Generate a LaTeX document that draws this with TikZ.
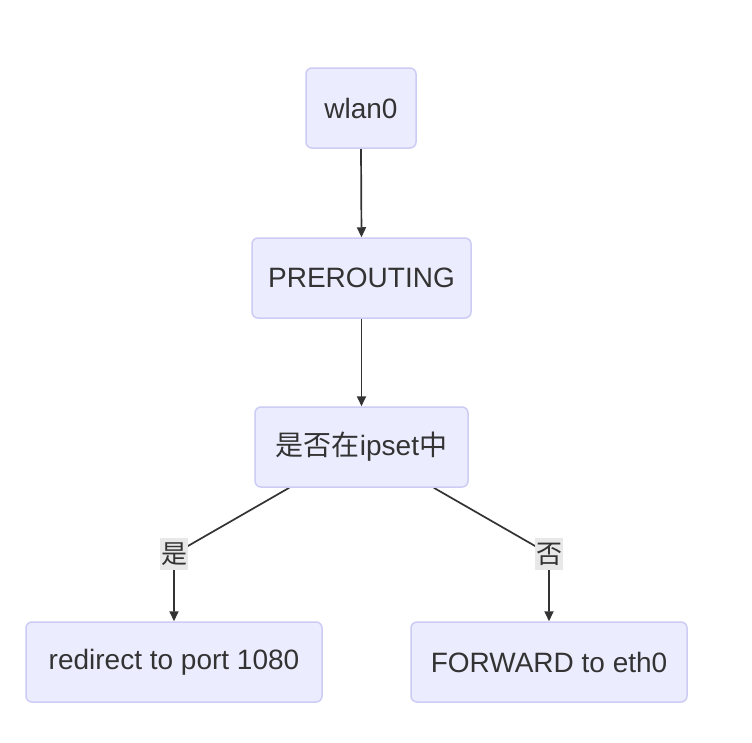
\documentclass[tikz,border=0pt]{standalone}
\usepackage{fontspec}
\setmainfont{Liberation Sans}
\newfontfamily\cjk{Noto Sans CJK SC}
\usetikzlibrary{arrows.meta,backgrounds,calc}
\definecolor{boxfill}{HTML}{ECECFF}
\definecolor{boxline}{HTML}{CCCCF5}
\definecolor{edgecol}{HTML}{333333}
\definecolor{lblfill}{HTML}{E8E8E8}
\definecolor{txtcol}{HTML}{333333}
\begin{document}
\begin{tikzpicture}[x=1pt,y=-1pt,
  flowbox/.style={draw=boxline,fill=boxfill,line width=1.5pt,rounded corners=6pt,
    inner sep=0pt,text=txtcol,font=\fontsize{28}{33}\selectfont},
  edgelbl/.style={fill=lblfill,inner sep=0pt,minimum width=28pt,minimum height=32pt,
    text=txtcol,font=\cjk\fontsize{26}{30}\selectfont},
  flowarrow/.style={draw=edgecol,line width=1.7pt,-{Triangle[length=10pt,width=9pt]}}]
\useasboundingbox (0,0) rectangle (752,742);
\node[flowbox,minimum width=110pt,minimum height=80pt] (wlan) at (361,108) {wlan0};
\node[flowbox,minimum width=219pt,minimum height=80pt] (pre) at (361.5,278) {PREROUTING};
\node[flowbox,minimum width=213pt,minimum height=80pt] (ipset) at (361.5,447) {{\cjk\fontsize{28}{33}\selectfont 是否在}ipset{\cjk\fontsize{28}{33}\selectfont 中}};
\node[flowbox,minimum width=296pt,minimum height=80pt] (redir) at (174,662) {redirect to port 1080};
\node[flowbox,minimum width=276pt,minimum height=80pt] (fwd) at (549,662) {FORWARD to eth0};
\node[edgelbl] (yes) at (174,554) {是};
\node[edgelbl] (no) at (549,554) {否};
\begin{scope}[on background layer]
\fill[white] (0,0) rectangle (752,742);
\draw[flowarrow] (wlan.south) -- (pre.north);
\draw[flowarrow] (pre.south) -- (ipset.north);
\draw[flowarrow] ([xshift=35pt]ipset.south west) -- (yes.center) -- (redir.north);
\draw[flowarrow] ([xshift=-35pt]ipset.south east) -- (no.center) -- (fwd.north);
\end{scope}
\end{tikzpicture}
\end{document}
